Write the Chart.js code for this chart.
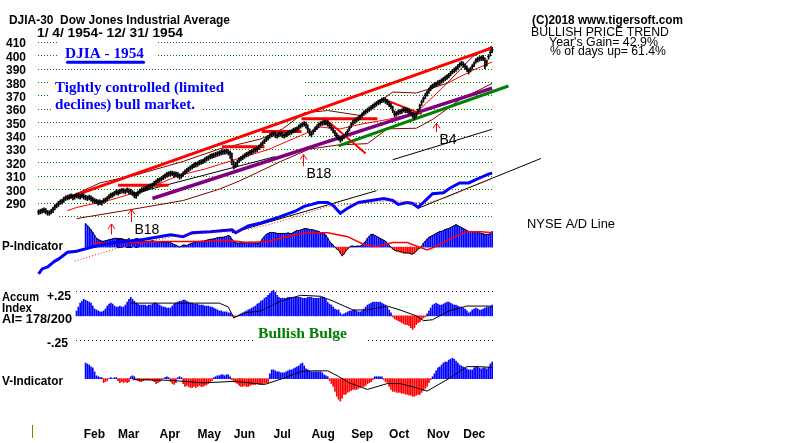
<!DOCTYPE html>
<html>
<head>
<meta charset="utf-8">
<title>DJIA 1954</title>
<script src="https://cdn.jsdelivr.net/npm/chart.js@4.4.0/dist/chart.umd.min.js"></script>
<style>
  html, body { margin: 0; padding: 0; background: #fff; }
  #chart { display: block; }
</style>
</head>
<body>
<canvas id="chart" width="800" height="443"></canvas>
<script>
/*
 * DJIA 1954 - TigerSoft style daily chart
 */

// 1. Data (trading day index 0 = Jan 4 1954)
const months = ['Feb', 'Mar', 'Apr', 'May', 'Jun', 'Jul', 'Aug', 'Sep', 'Oct', 'Nov', 'Dec'];
const monthStartDay = [20, 39, 62, 83, 103, 125, 146, 168, 189, 210, 230];

const priceGrid = [410, 400, 390, 380, 370, 360, 350, 340, 330, 320, 310, 300, 290, 280];
const priceLabels = [410, 400, 390, 380, 370, 360, 350, 340, 330, 320, 310, 300, 290];

const closes = [
  283, 283.5, 284, 284.5, 283.5, 282.5, 282.5, 283.5, 285, 287,
  288, 289.5, 290.5, 291, 292.5, 293.5, 294, 294.5, 295, 294,
  294.5, 295.5, 295, 294.5, 295.5, 294.5, 294, 293.5, 294, 293,
  292, 291.5, 291, 290, 290.5, 290, 291.5, 292, 293, 294.5,
  295.5, 296, 297, 298, 297.5, 298.5, 299, 299, 298.5, 299.5,
  298.5, 298, 297, 296, 295, 297, 298.5, 299.5, 300, 300.5,
  301, 302, 302.5, 303, 304.5, 305.5, 306.5, 307, 308, 309,
  310, 311, 311.5, 312, 312, 311, 311.5, 310.5, 310, 310,
  311.5, 313, 314, 315, 316, 317, 318, 318.5, 319, 320,
  320.5, 321, 322, 323, 323.5, 324.5, 325, 325.5, 326, 326.5,
  327, 327.5, 328, 328, 328.5, 327.5, 327, 322, 317, 318,
  320, 322, 323, 324, 325, 326, 326.5, 327.5, 328, 329,
  329.5, 330, 331.5, 333, 334.5, 336, 337.5, 338.5, 340, 341,
  341.5, 340.5, 340, 341, 341.5, 340.5, 340, 341, 342, 342.5,
  343, 344, 344.5, 345, 346.5, 347.5, 348.5, 349, 348, 345,
  342, 341, 343, 345, 346.5, 348, 349, 349.5, 350, 350,
  349, 347.5, 346, 344, 342, 340, 338.5, 337, 338, 339.5,
  341, 343, 345.5, 348, 350, 351, 352, 353, 354, 355.5,
  357, 358, 359, 360, 361, 362, 363, 364, 365, 365.5,
  366.5, 367, 366, 365, 363.5, 362, 359, 356, 356.5, 357.5,
  358, 358.5, 359.5, 359, 359, 358, 357, 355.5, 354, 355.5,
  358.5, 362, 365, 367.5, 370, 372, 374, 376, 377, 378,
  378.5, 379.5, 380, 381, 382, 383, 384, 385, 386.5, 388,
  389, 390, 391.5, 393, 394, 393, 391.5, 390, 388, 389.5,
  391.5, 393.5, 396, 397, 397.5, 398, 398, 392, 395, 399,
  402, 404
];
const highs = [
  284.5, 285, 285.5, 286, 285.5, 284, 284, 285, 286.5, 288.5,
  289.5, 291, 292, 292.5, 294, 295, 295.5, 296, 296.5, 296,
  296, 297, 297, 296, 297, 296.5, 295.5, 295, 295.5, 295,
  294, 293, 292.5, 292, 292, 291.5, 293, 293.5, 294.5, 296,
  297, 297.5, 298.5, 299.5, 299.5, 300, 300.5, 300.5, 300, 301,
  300.5, 300, 299, 298, 297, 298.5, 300, 301, 301.5, 302,
  302.5, 303.5, 304, 304.5, 306, 307, 308, 308.5, 309.5, 310.5,
  311.5, 312.5, 313, 313.5, 313.5, 313, 313, 312.5, 311.5, 311.5,
  313, 314.5, 315.5, 316.5, 317.5, 318.5, 319.5, 320, 320.5, 321.5,
  322, 322.5, 323.5, 324.5, 325, 326, 326.5, 327, 327.5, 328,
  328.5, 329, 329.5, 329.5, 330, 329.5, 328.5, 327, 321, 320,
  321.5, 323.5, 324.5, 325.5, 326.5, 327.5, 328, 329, 329.5, 330.5,
  331, 331.5, 333, 334.5, 336, 337.5, 339, 340, 341.5, 342.5,
  343, 342.5, 341.5, 342.5, 343, 342.5, 341.5, 342.5, 343.5, 344,
  344.5, 345.5, 346, 346.5, 348, 349, 350, 350.5, 350, 348,
  345, 343, 344.5, 346.5, 348, 349.5, 350.5, 351, 351.5, 351.5,
  351, 349.5, 348, 346, 344, 342, 340.5, 339, 339.5, 341,
  342.5, 344.5, 347, 349.5, 351.5, 352.5, 353.5, 354.5, 355.5, 357,
  358.5, 359.5, 360.5, 361.5, 362.5, 363.5, 364.5, 365.5, 366.5, 367,
  368, 368.5, 368, 367, 365.5, 364, 362, 358.5, 358, 359,
  359.5, 360, 361, 361, 360.5, 360, 359, 357.5, 356, 357,
  360, 363.5, 366.5, 369, 371.5, 373.5, 375.5, 377.5, 378.5, 379.5,
  380, 381, 381.5, 382.5, 383.5, 384.5, 385.5, 386.5, 388, 389.5,
  390.5, 391.5, 393, 394.5, 395.5, 395, 393.5, 392, 390, 391,
  393, 395, 397.5, 398.5, 399, 399.5, 400, 398, 396.5, 400.5,
  403.5, 406
];
const lows = [
  281, 281.5, 282, 282.5, 281.5, 280.5, 280.5, 281.5, 282.5, 284.5,
  286, 287, 288.5, 289, 290, 291.5, 292, 292.5, 293, 292,
  292.5, 293.5, 293, 292.5, 293.5, 292.5, 292, 291.5, 292, 291,
  290, 289.5, 289, 288, 288.5, 288, 289.5, 290, 291, 292.5,
  293.5, 294, 295, 296, 295.5, 296.5, 297, 297, 296.5, 297.5,
  296.5, 296, 295, 293.5, 293, 295, 296.5, 297.5, 298, 298.5,
  299, 300, 300.5, 301, 302.5, 303.5, 304.5, 305, 306, 307,
  308, 309, 309.5, 310, 310, 309, 309.5, 308.5, 307.5, 308,
  309.5, 311, 312, 313, 314, 315, 316, 316.5, 317, 318,
  318.5, 319, 320, 321, 321.5, 322.5, 323, 323.5, 324, 324.5,
  325, 325.5, 326, 326, 326.5, 325.5, 323, 318, 315, 316,
  317.5, 320, 321, 322, 323, 324, 324.5, 325.5, 326, 327,
  327.5, 328, 329.5, 331, 332.5, 334, 335.5, 336.5, 338, 339,
  339.5, 338.5, 338, 339, 339.5, 338.5, 338, 339, 340, 340.5,
  341, 342, 342.5, 343, 344.5, 345.5, 346.5, 347, 345.5, 342.5,
  340, 339, 341, 343, 344.5, 346, 347, 347.5, 348, 348,
  347, 345.5, 344, 342, 340, 338, 336.5, 335, 336, 337.5,
  339, 341, 343.5, 346, 348, 349, 350, 351, 352, 353.5,
  355, 356, 357, 358, 359, 360, 361, 362, 363, 363.5,
  364.5, 365, 364, 363, 361.5, 360, 357, 354, 354.5, 355.5,
  356, 356.5, 357.5, 357, 357, 356, 355, 353.5, 352, 353.5,
  356, 359.5, 362.5, 365, 367.5, 369.5, 371.5, 373.5, 375, 376,
  376.5, 377.5, 378, 379, 380, 381, 382, 383, 384.5, 386,
  387, 388, 389.5, 391, 392, 391, 389.5, 388, 386, 387.5,
  389.5, 391.5, 394, 395, 395.5, 396, 396, 390, 392, 397,
  399.5, 402
];

// price envelope and moving average, read at a few days
const bandUpDays = [20, 34, 55, 80, 100, 123, 135, 147, 160, 178, 188, 196, 209, 226, 240, 251];
const bandUpVals = [296, 304.7, 311, 320.7, 330, 337.5, 345, 357, 358.7, 355, 365, 372.5, 371.8, 379, 398.8, 406.9];
const bandLowDays = [21, 50, 80, 100, 111, 134, 150, 166, 182, 193, 209, 218, 233, 251];
const bandLowVals = [278, 284.5, 291.5, 300, 306, 320.7, 330, 333, 334, 345, 345.5, 352, 366.7, 379];
const maDays = [16, 21, 40, 60, 74, 80, 92, 111, 127, 145, 156, 167, 178, 193, 209, 226, 240, 251];
const maVals = [284, 286.3, 292, 300, 308.2, 311, 315, 323, 329.5, 340, 346.3, 345, 348.4, 352, 357, 379, 388.6, 395];

// trendlines: [day, price]
const redTrend = [[16, 293.5], [251, 405.5]];
const redLevels = [[44, 72, 303], [101.5, 125, 331.7], [123.5, 145.5, 343], [145.5, 187.5, 352.5]];
const redDrops = [[[159, 352], [181, 326.6]], [[192, 366.6], [212, 356]]];
const purpleTrend = [[63, 293], [251, 375.5]];
const greenTrend = [[166, 332.3], [260, 377]];
const blackTrends = [[[52, 296.5], [131, 324.3]], [[196, 322], [251, 344.7]]];

// buy signals
const signals = [
  { day: 39.9, tip: 274.0, tail: 266.1, label: 'B10' },
  { day: 51.4, tip: 284.9, tail: 275.5, label: 'B18' },
  { day: 146.4, tip: 325.8, tail: 317.1, label: 'B18' },
  { day: 219.7, tip: 349.2, tail: 342.6, label: 'B4' }
];

// NYSE A/D line
const adDays = [0, 2, 5, 9, 11, 16, 21, 29, 36, 42, 58, 73, 80, 85, 95, 107, 109, 116, 123, 133, 142, 147,
  155, 160, 163, 167, 171, 177, 184, 191, 196, 199, 204, 207, 210, 213, 218, 224, 228, 233, 238, 244, 249, 251];
const adValues = [5, 10, 12, 18, 20, 27, 28, 32, 35, 37, 40, 45, 43, 47, 48, 50, 47, 54, 57, 63, 69, 74,
  78, 78, 75, 67, 72, 78, 80, 82, 80, 76, 78, 77, 73, 78, 87, 88, 93, 98, 98, 103, 107, 108];
const adMaDays = [20, 47, 74, 98, 109, 127, 145, 160, 178, 196, 209, 215, 226, 237, 251];
const adMaValues = [18, 33, 43, 48, 48, 55, 65, 74, 77, 80, 78, 78, 83, 92, 102];
const adTrends = [[[107, 47], [187, 90]], [[210, 72], [278, 123]]];

// P-Indicator (from day 26)
const pStart = 26;
const pIndicator = [
  240, 220, 200, 177, 150, 120, 90, 80, 70, 60,
  60, 65, 70, 75, 80, 85, 90, 90, 85, 80,
  80, 80, 75, 70, 65, 60, 65, 75, 80, 75,
  70, 60, 60, 55, 60, 60, 60, 65, 60, 60,
  55, 55, 50, 50, 55, 50, 50, 45, 35, 25,
  20, 10, 0, 10, 20, 20, 15, 25, 35, 40,
  45, 50, 55, 55, 60, 60, 65, 70, 75, 80,
  80, 85, 90, 95, 100, 100, 100, 105, 110, 120,
  110, 80, 50, 45, 40, 40, 45, 40, 40, 45,
  50, 50, 50, 45, 40, 40, 40, 60, 90, 110,
  130, 140, 150, 150, 150, 145, 140, 140, 140, 140,
  140, 140, 145, 140, 140, 150, 160, 170, 170, 175,
  180, 190, 190, 185, 180, 180, 175, 170, 165, 160,
  150, 145, 140, 120, 90, 60, 40, 20, 0, -20,
  -30, -60, -90, -70, -40, -20, 0, 10, 10, 5,
  10, 10, 10, 20, 40, 60, 90, 110, 130, 130,
  120, 110, 100, 90, 80, 70, 60, 40, 20, 0,
  -20, -30, -40, -40, -50, -50, -60, -60, -60, -60,
  -70, -70, -60, -40, -20, -10, 10, 40, 60, 80,
  100, 110, 120, 130, 140, 150, 160, 160, 170, 180,
  185, 190, 200, 210, 220, 230, 220, 210, 200, 190,
  180, 170, 160, 160, 160, 160, 160, 150, 145, 140,
  135, 130, 130, 130, 140, 160
];
const pMaDays = [30, 51, 69, 87, 105, 116, 127, 142, 149, 160, 171, 180, 187, 196, 204, 215, 220, 229, 237, 245, 251];
const pMaValues = [40, 47, 57, 57, 67, 47, 57, 127, 147, 147, 107, 27, 7, 47, 47, -30, 7, 97, 157, 157, 147];

// Accumulation Index (from day 21)
const aiStart = 21;
const accumIndex = [
  .05, .09, .13, .15, .17, .16, .15, .14, .13, .10,
  .07, .06, .05, .04, .04, .05, .07, .10, .12, .13,
  .12, .10, .09, .09, .10, .09, .09, .11, .14, .17,
  .19, .17, .15, .13, .12, .11, .11, .11, .11, .10,
  .11, .11, .12, .13, .13, .12, .11, .10, .09, .09,
  .08, .08, .08, .10, .12, .13, .14, .15, .15, .16,
  .16, .15, .14, .13, .13, .12, .12, .12, .11, .11,
  .11, .10, .10, .10, .09, .09, .08, .07, .06, .05,
  .05, .04, .04, .04, .03, .03, .01, -.02, -.01, .00,
  .01, .02, .03, .04, .05, .06, .07, .08, .09, .10,
  .12, .13, .15, .16, .18, .19, .21, .23, .25, .26,
  .24, .21, .19, .18, .18, .18, .18, .19, .19, .19,
  .18, .19, .19, .19, .19, .18, .18, .18, .19, .19,
  .19, .18, .18, .18, .18, .19, .19, .19, .17, .14,
  .12, .11, .09, .07, .06, .06, .03, .01, .02, .03,
  .04, .05, .05, .06, .06, .05, .04, .04, .05, .07,
  .09, .11, .12, .13, .14, .14, .14, .14, .14, .13,
  .12, .11, .09, .06, .03, -.01, -.03, -.04, -.05, -.06,
  -.07, -.08, -.09, -.09, -.10, -.12, -.14, -.12, -.09, -.07,
  -.06, -.04, -.02, -.01, .02, .05, .08, .11, .12, .13,
  .12, .11, .11, .12, .13, .14, .14, .13, .12, .11,
  .11, .10, .09, .09, .08, .07, .05, .03, .04, .06,
  .07, .08, .07, .06, .06, .07, .08, .09, .09, .10,
  .11
];
const aiMaDays = [51, 69, 91, 100, 105, 108, 114, 123, 134, 145, 156, 163, 174, 182, 193, 200, 209, 213, 218, 227, 237, 249, 251];
const aiMaValues = [.13, .13, .13, .13, .09, -.02, .03, .05, .15, .21, .20, .15, .06, .06, .10, .06, 0, -.05, -.04, .05, .10, .10, .09];

// V-Indicator (from day 26)
const vStart = 26;
const vIndicator = [
  16, 15, 14, 12, 11, 7, 3, 2, 1, 1,
  -4, -3, -2, 0, 1, 0, 1, 1, -2, -4,
  -3, -4, -3, -4, -3, 2, 3, 2, -1, -2,
  -3, -3, -2, -1, -1, -1, -1, -2, -3, -5,
  -4, -3, -1, 0, 1, 2, 1, -3, -5, -6,
  -4, 1, 2, 1, -5, -8, -7, -8, -9, -9,
  -8, -9, -8, -7, -8, -8, -7, -6, -5, -4,
  -2, 1, 2, 3, 3, 4, 4, 3, 4, 4,
  2, -1, -3, -4, -5, -7, -8, -8, -7, -8,
  -8, -7, -6, -6, -6, -5, -6, -6, -5, -5,
  -4, -4, 5, 9, 9, 8, 7, 7, 6, 6,
  6, 7, 8, 9, 9, 10, 11, 12, 13, 15,
  16, 13, 10, 9, 8, 7, 7, 7, 7, 7,
  7, 6, 4, 3, 2, -2, -5, -8, -13, -18,
  -21, -23, -20, -16, -16, -14, -13, -12, -11, -11,
  -11, -10, -9, -8, -8, -7, -5, -4, -3, -1,
  2, 2, 2, 2, 2, -1, -3, -4, -8, -11,
  -13, -13, -14, -14, -14, -15, -15, -16, -16, -17,
  -17, -18, -18, -17, -16, -16, -14, -12, -10, -8,
  -4, -1, 2, 5, 8, 11, 12, 14, 16, 17,
  17, 19, 20, 21, 20, 18, 16, 14, 13, 12,
  11, 10, 9, 9, 9, 11, 12, 12, 11, 10,
  11, 11, 10, 12, 15, 17
];
const vMaDays = [52, 73, 91, 109, 125, 136, 145, 152, 160, 166, 172, 182, 193, 200, 209, 215, 227, 237, 244, 249, 251];
const vMaValues = [-1, -1.7, -4.3, -2.7, -6, 0.7, 7.3, 8, 8, 2.3, -4.3, -11, -5, -5, -9.3, -12.7, 0, 12.3, 12.3, 11.7, 11.7];

// 2. Helpers
const H = 443;
const span = (v0, y0, pxPerUnit) => ({ min: v0 - (H - y0) / pxPerUnit, max: v0 + y0 / pxPerUnit });
const pairs = (days, vals) => days.map((d, i) => ({ x: d, y: vals[i] }));
const pts = (arr) => arr.map(p => ({ x: p[0], y: p[1] }));
const series = (start, vals) => vals.map((v, k) => ({ x: start + k, y: v }));
const posNeg = (ctx) => (ctx.raw && ctx.raw.y < 0 ? '#ff0000' : '#0000ff');

const line = (data, axis, color, width, extra) => Object.assign({
  type: 'line', data, yAxisID: axis, borderColor: color, borderWidth: width,
  pointRadius: 0, tension: 0, fill: false
}, extra || {});
const hist = (data, axis, order) => ({
  type: 'bar', data, yAxisID: axis, backgroundColor: posNeg,
  barThickness: 1, grouped: false, order
});

// 3. Datasets
const datasets = [];
datasets.push(line(closes.map((c, i) => ({ x: i, y: c })), 'yP', '#000', 1,
  { showLine: false, pointRadius: 1.4, pointStyle: 'line', pointBorderColor: '#000', pointBorderWidth: 1, order: 0 }));
datasets.push({
  type: 'bar', data: closes.map((c, i) => ({ x: i, y: [lows[i], highs[i]] })), yAxisID: 'yP',
  backgroundColor: '#000', barThickness: 1, grouped: false, order: 1
});
datasets.push(line(pts(redTrend), 'yP', '#ff0000', 3, { order: 2 }));
redLevels.forEach(l => datasets.push(line([{ x: l[0], y: l[2] }, { x: l[1], y: l[2] }], 'yP', '#ff0000', 3, { order: 2 })));
redDrops.forEach(d => datasets.push(line(pts(d), 'yP', '#ff0000', 2, { order: 2 })));
datasets.push(line(pts(purpleTrend), 'yP', '#800080', 3.5, { order: 3 }));
datasets.push(line(pts(greenTrend), 'yP', '#008000', 3, { order: 3 }));
blackTrends.forEach(t => datasets.push(line(pts(t), 'yP', '#000', 1, { order: 3 })));
datasets.push(line(pairs(bandUpDays, bandUpVals), 'yP', '#800000', 1, { order: 4 }));
datasets.push(line(pairs(bandLowDays, bandLowVals), 'yP', '#800000', 1, { order: 4 }));
datasets.push(line(pairs(maDays, maVals), 'yP', '#ff0000', 1, { order: 4 }));

datasets.push(line(pairs(adMaDays, adMaValues), 'yA', '#ff0000', 1, { borderDash: [1, 2], order: 4 }));
datasets.push(line(pairs(adDays, adValues), 'yA', '#0000ff', 3, { order: 5 }));
adTrends.forEach(t => datasets.push(line(pts(t), 'yA', '#000', 1, { order: 5 })));

datasets.push(line(pairs(pMaDays, pMaValues), 'yPI', '#ff0000', 1.5, { order: 5 }));
datasets.push(line(series(pStart, pIndicator), 'yPI', '#000', 1, { order: 6 }));
datasets.push(hist(series(pStart, pIndicator), 'yPI', 7));

datasets.push(line(pairs(aiMaDays, aiMaValues), 'yAI', '#000', 1, { order: 5 }));
datasets.push(hist(series(aiStart, accumIndex), 'yAI', 7));

datasets.push(line(pairs(vMaDays, vMaValues), 'yV', '#000', 1, { order: 5 }));
datasets.push(hist(series(vStart, vIndicator), 'yV', 7));

// 4. Text, grid and signal drawing
function put(ctx, txt, x, y, font, color, w) {
  ctx.font = font;
  ctx.fillStyle = color;
  ctx.textAlign = 'left';
  ctx.textBaseline = 'alphabetic';
  const m = ctx.measureText(txt).width;
  ctx.save();
  ctx.translate(x, y);
  if (w) ctx.scale(w / m, 1);
  ctx.fillText(txt, 0, 0);
  ctx.restore();
}

function dotted(ctx, x1, x2, y, color, dash) {
  ctx.save();
  ctx.strokeStyle = color;
  ctx.lineWidth = 1;
  ctx.setLineDash(dash);
  ctx.beginPath();
  ctx.moveTo(Math.round(x1), Math.round(y) + 0.5);
  ctx.lineTo(Math.round(x2), Math.round(y) + 0.5);
  ctx.stroke();
  ctx.restore();
}

const SANS = '"Liberation Sans", Arial, sans-serif';
const SERIF = '"Liberation Serif", "Times New Roman", serif';

const decor = {
  id: 'decor',
  beforeDatasetsDraw(chart) {
    const { ctx, scales } = chart;
    const x = scales.x, yP = scales.yP, yAI = scales.yAI;
    priceGrid.forEach(v => {
      const from = v === 280 ? 11.5 : -0.5;
      dotted(ctx, x.getPixelForValue(from), x.getPixelForValue(251.5), yP.getPixelForValue(v), '#008000', [1, 2]);
    });
    [0.25, -0.25].forEach(v => {
      dotted(ctx, x.getPixelForValue(20.8), x.getPixelForValue(251.5), yAI.getPixelForValue(v), '#600060', [1, 3]);
    });
    // the B10 label sits under the P-Indicator bars
    const s = signals[0];
    put(ctx, s.label, x.getPixelForValue(s.day) + 5, yP.getPixelForValue(s.tail) + 13, '14px ' + SANS, '#000');
  },
  afterDatasetsDraw(chart) {
    const { ctx, scales } = chart;
    const x = scales.x, yP = scales.yP;
    ctx.save();

    // white boxes behind the annotation texts
    ctx.fillStyle = '#fff';
    ctx.fillRect(58, 42, 98, 23);
    ctx.fillRect(50, 74, 253, 23);
    ctx.fillRect(52, 97, 150, 17);
    ctx.fillRect(256, 326, 111, 19);

    // signal arrows
    ctx.strokeStyle = '#ff0000';
    ctx.lineWidth = 1;
    signals.forEach((s, i) => {
      const px = Math.round(x.getPixelForValue(s.day)) + 0.5;
      const tip = yP.getPixelForValue(s.tip), tail = yP.getPixelForValue(s.tail);
      ctx.beginPath();
      ctx.moveTo(px, tail);
      ctx.lineTo(px, tip);
      ctx.moveTo(px - 3.5, tip + 5);
      ctx.lineTo(px, tip);
      ctx.lineTo(px + 3.5, tip + 5);
      ctx.stroke();
      if (i > 0) put(ctx, s.label, px + 3, tail + 12, '14px ' + SANS, '#000');
    });

    // price labels
    priceLabels.forEach(v => {
      put(ctx, String(v), 6, yP.getPixelForValue(v) + 5.5, 'bold 12px ' + SANS, '#000', 20);
    });

    // headings
    put(ctx, 'DJIA-30  Dow Jones Industrial Average', 9, 24, 'bold 12px ' + SANS, '#000', 221);
    put(ctx, '1/ 4/ 1954- 12/ 31/ 1954', 37, 37, 'bold 12px ' + SANS, '#000', 146);
    put(ctx, 'DJIA - 1954', 65, 57.5, 'bold 15px ' + SERIF, '#0000ff', 79);
    ctx.strokeStyle = '#0000ff';
    ctx.lineWidth = 3;
    ctx.lineCap = 'round';
    ctx.beginPath();
    ctx.moveTo(67.5, 62.3);
    ctx.lineTo(143.5, 62.3);
    ctx.stroke();
    put(ctx, 'Tightly controlled (limited', 55, 92, 'bold 15px ' + SERIF, '#0000ff', 169);
    put(ctx, 'declines) bull market.', 55, 108.5, 'bold 15px ' + SERIF, '#0000ff', 140);

    put(ctx, '(C)2018 www.tigersoft.com', 532, 24, 'bold 12px ' + SANS, '#000', 151);
    put(ctx, 'BULLISH PRICE TREND', 531, 36, '12px ' + SANS, '#000', 138);
    put(ctx, "Year's Gain= 42.9%", 549, 46, '12px ' + SANS, '#000', 109);
    put(ctx, '% of days up= 61.4%', 550, 54.5, '12px ' + SANS, '#000', 116);

    // panel captions
    put(ctx, 'NYSE A/D Line', 527, 228, '12px ' + SANS, '#000', 88);
    put(ctx, 'P-Indicator', 2, 250, 'bold 12px ' + SANS, '#000', 61);
    put(ctx, 'Accum', 2, 300.5, 'bold 12px ' + SANS, '#000', 37);
    put(ctx, '+.25', 47, 300, 'bold 12px ' + SANS, '#000', 24);
    put(ctx, 'Index', 2, 311.5, 'bold 12px ' + SANS, '#000', 30);
    put(ctx, 'AI= 178/200', 2, 322.5, 'bold 12px ' + SANS, '#000', 70);
    put(ctx, 'Bullish Bulge', 258, 338, 'bold 15px ' + SERIF, '#008000', 89);
    put(ctx, '-.25', 47, 346.5, 'bold 12px ' + SANS, '#000', 21);
    put(ctx, 'V-Indicator', 2, 384.5, 'bold 12px ' + SANS, '#000', 61);

    // months
    months.forEach((m, i) => {
      put(ctx, m, x.getPixelForValue(monthStartDay[i]) + 9, 438, 'bold 12px ' + SANS, '#000');
    });
    ctx.fillStyle = '#808000';
    ctx.fillRect(32, 425, 1, 13);
    ctx.restore();
  }
};

// 5. Chart
new Chart(document.getElementById('chart').getContext('2d'), {
  type: 'bar',
  data: { datasets },
  options: {
    responsive: false,
    animation: false,
    devicePixelRatio: 1,
    events: [],
    layout: { padding: 0 },
    plugins: { legend: { display: false }, tooltip: { enabled: false } },
    scales: {
      x: { type: 'linear', min: -34 / 1.83, max: (800 - 34) / 1.83, offset: false, display: false },
      yP: Object.assign({ type: 'linear', display: false }, span(410, 37.7, 1.37)),
      yA: Object.assign({ type: 'linear', display: false }, span(0, 280, 1)),
      yPI: Object.assign({ type: 'linear', display: false }, span(0, 247.7, 0.1)),
      yAI: Object.assign({ type: 'linear', display: false }, span(0, 318, 100)),
      yV: Object.assign({ type: 'linear', display: false }, span(0, 382.3, 1))
    }
  },
  plugins: [decor]
});
</script>
</body>
</html>
